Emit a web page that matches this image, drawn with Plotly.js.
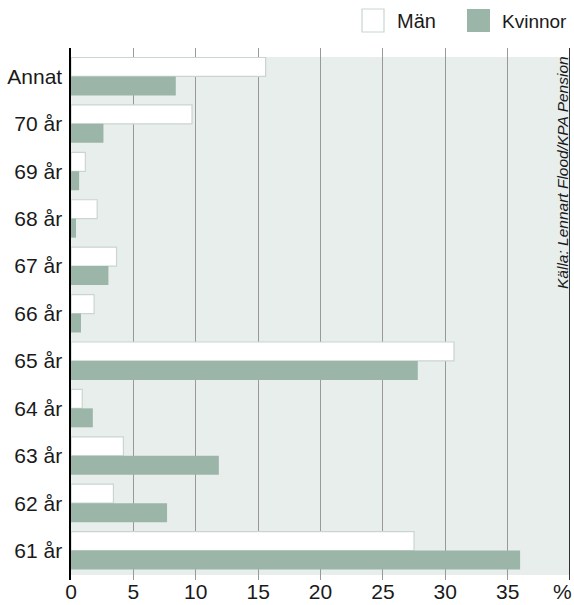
<!DOCTYPE html>
<html>
<head>
<meta charset="utf-8">
<script src="https://cdn.plot.ly/plotly-3.0.1.min.js"></script>
<style>
  html, body { margin: 0; padding: 0; background: #fff; }
  #chart { width: 574px; height: 605px; }
</style>
</head>
<body>
<div id="chart"></div>
<script>
// ---- data ----
const categories = ["Annat", "70 år", "69 år", "68 år", "67 år", "66 år", "65 år", "64 år", "63 år", "62 år", "61 år"];
const seriesNames = ["Män", "Kvinnor"];
const manValues = [15.6, 9.7, 1.15, 2.1, 3.65, 1.85, 30.7, 0.9, 4.2, 3.4, 27.5];
const kvinnorValues = [8.4, 2.6, 0.65, 0.4, 3.0, 0.8, 27.8, 1.75, 11.85, 7.7, 36.0];
const xTickVals = [0, 5, 10, 15, 20, 25, 30, 35];
const xTickText = ["0", "5", "10", "15", "20", "25", "30", "35"];
const xUnitLabel = "%";
const sourceText = "Källa: Lennart Flood/KPA Pension";

// ---- layout geometry ----
const W = 574, H = 605;
const L = 71, R = 4, T = 48, B = 25;
const plotW = W - L - R, plotH = H - T - B;
const px = x => (x - L) / plotW;          // pixel x -> paper
const py = y => (H - B - y) / plotH;      // pixel y -> paper

const FONT = '"Liberation Sans", Arial, sans-serif';
const TXT = '#1a1a1a';
const manColor = '#ffffff', manLine = '#c9d6cf';
const kvColor = '#9cb5a9';
const bgColor = '#e8eeec';

const traces = [
  {
    type: 'bar', orientation: 'h', name: seriesNames[0],
    y: categories, x: manValues,
    marker: { color: manColor, line: { color: manLine, width: 1.2 } },
    hoverinfo: 'skip', showlegend: false
  },
  {
    type: 'bar', orientation: 'h', name: seriesNames[1],
    y: categories, x: kvinnorValues,
    marker: { color: kvColor, line: { color: kvColor, width: 0 } },
    hoverinfo: 'skip', showlegend: false
  }
];

const layout = {
  width: W, height: H,
  margin: { l: L, r: R, t: T, b: B, pad: 0 },
  paper_bgcolor: '#ffffff',
  plot_bgcolor: '#ffffff',
  font: { family: FONT, color: TXT, size: 20 },
  barmode: 'group',
  bargap: 0.2,
  bargroupgap: 0,
  showlegend: false,
  xaxis: {
    range: [0, 40],
    tickmode: 'array',
    tickvals: xTickVals,
    ticktext: xTickText,
    showgrid: true,
    gridcolor: '#999999',
    gridwidth: 1,
    zeroline: false,
    showline: false,
    ticks: '',
    ticklabelstandoff: -3,
    tickfont: { family: FONT, size: 21, color: TXT },
    fixedrange: true
  },
  yaxis: {
    type: 'category',
    categoryorder: 'array',
    categoryarray: categories,
    range: [10.62, -0.60],
    showgrid: false,
    zeroline: false,
    showline: true,
    linecolor: '#000000',
    linewidth: 1.6,
    ticks: '',
    ticklabelstandoff: 3,
    tickfont: { family: FONT, size: 21, color: TXT },
    fixedrange: true
  },
  shapes: [
    // panel background
    { type: 'rect', layer: 'below', xref: 'x', yref: 'paper',
      x0: 0, x1: 40, y0: py(575), y1: py(57),
      fillcolor: bgColor, line: { width: 0 } },
    // right frame line
    { type: 'line', layer: 'above', xref: 'x', yref: 'paper',
      x0: 40, x1: 40, y0: 0, y1: 1,
      line: { color: '#000000', width: 1.6 } },
    // legend swatches
    { type: 'rect', xref: 'paper', yref: 'paper',
      x0: px(362), x1: px(384), y0: py(32), y1: py(9),
      fillcolor: manColor, line: { color: manLine, width: 1.2 } },
    { type: 'rect', xref: 'paper', yref: 'paper',
      x0: px(467), x1: px(490), y0: py(32), y1: py(9),
      fillcolor: kvColor, line: { width: 0 } }
  ],
  annotations: [
    { xref: 'paper', yref: 'paper', x: px(395), y: py(21),
      xanchor: 'left', yanchor: 'middle', showarrow: false,
      text: seriesNames[0], font: { family: FONT, size: 20, color: TXT } },
    { xref: 'paper', yref: 'paper', x: px(500), y: py(21),
      xanchor: 'left', yanchor: 'middle', showarrow: false,
      text: seriesNames[1], font: { family: FONT, size: 19, color: TXT } },
    { xref: 'paper', yref: 'paper', x: px(562), y: py(591),
      xanchor: 'center', yanchor: 'middle', showarrow: false, borderpad: 0,
      text: xUnitLabel, font: { family: FONT, size: 21, color: TXT } },
    { xref: 'paper', yref: 'paper', x: px(562), y: py(173),
      xanchor: 'center', yanchor: 'middle', showarrow: false, textangle: -90,
      text: '<i>' + sourceText + '</i>',
      font: { family: FONT, size: 15.5, color: TXT } }
  ]
};

Plotly.newPlot('chart', traces, layout, { staticPlot: true, displayModeBar: false });
</script>
</body>
</html>
